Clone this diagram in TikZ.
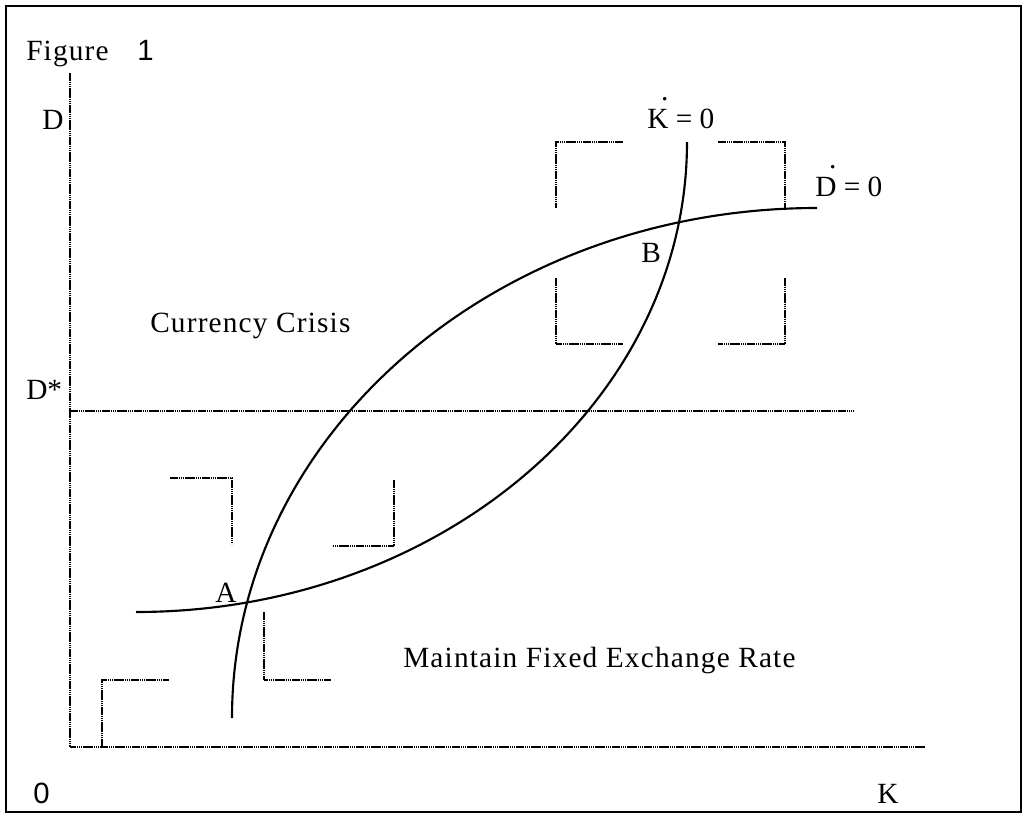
\documentclass[tikz,border=0pt]{standalone}
\usepackage{fontspec}
\setmainfont{Liberation Serif}
\newfontfamily\trackfont[LetterSpace=4]{Liberation Serif}
\newfontfamily\digitfont{Liberation Sans}
\usetikzlibrary{positioning}
\newcommand{\topdot}[1]{#1\llap{\raisebox{0.95em}{.}}}
\tikzset{
  guide/.style={line width=1pt, dash pattern=on 1.2pt off 0.4pt},
  curve/.style={line width=1.6pt},
  frame/.style={line width=1.8pt},
  lbl/.style={anchor=base west, inner sep=0pt, font=\fontsize{22}{26}\selectfont},
  tracked/.style={lbl, font=\fontsize{22}{26}\selectfont\trackfont},
  digit/.style={lbl, font=\fontsize{22}{26}\selectfont\digitfont}
}

\begin{document}
\begin{tikzpicture}[x=0.75pt, y=0.75pt]
  \useasboundingbox (0,0) rectangle (1026,-814);
  \draw[frame] (6,-6) rectangle (1021,-812);

  % Labels
  \node[tracked] (fig) at (26,-60) {Figure};
  \node[digit] (fignum) at (137,-60) {1};
  \node[lbl] (dlab) at (42,-129) {D};
  \node[lbl] (dstar) at (26,-399) {D*};
  \node[tracked] (crisis) at (150,-332) {Currency Crisis};
  \node[tracked] (fixed) at (403,-667) {Maintain Fixed Exchange Rate};
  \node[lbl] (ptA) at (215,-602) {A};
  \node[lbl] (ptB) at (641,-262) {B};
  \node[lbl] (kdot) at (647,-128) {\topdot{K} = 0};
  \node[lbl] (ddot) at (815,-196) {\topdot{D} = 0};
  \node[lbl] (klab) at (877,-803) {K};
  \node[digit] (orig) at (33,-803) {0};

  % Axes and D* level
  \coordinate (O) at (70,-747);
  \coordinate (ytop) at (70,-73);
  \coordinate (xend) at (925,-747);
  \draw[guide] (ytop) -- (O) -- (xend);
  \draw[guide] (70,-411) -- (853,-411);

  % Corner marks
  \draw[guide] (623,-142) -- (556,-142) -- (556,-208);
  \draw[guide] (718,-142) -- (785,-142) -- (785,-208);
  \draw[guide] (556,-278) -- (556,-344) -- (623,-344);
  \draw[guide] (785,-278) -- (785,-344) -- (718,-344);
  \draw[guide] (170,-478) -- (232,-478) -- (232,-544);
  \draw[guide] (394,-480) -- (394,-546) -- (332,-546);
  \draw[guide] (264,-612) -- (264,-680) -- (331,-680);
  \draw[guide] (102,-747) -- (102,-680) -- (169,-680);

  % Curves
  \draw[curve] (232,-718) arc[start angle=180, end angle=90, x radius=585, y radius=510];
  \draw[curve] (136,-612) arc[start angle=270, end angle=360, x radius=551, y radius=470];
\end{tikzpicture}
\end{document}
